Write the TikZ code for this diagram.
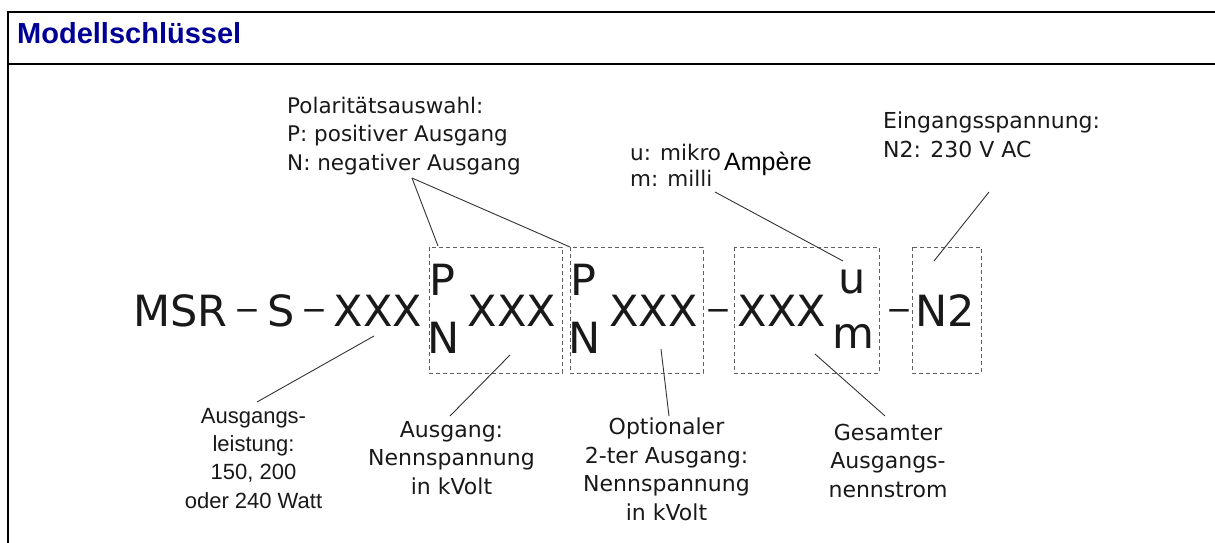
\documentclass[tikz,border=0pt]{standalone}
\usepackage{fontspec}
\setmainfont{DejaVu Sans}
\newfontfamily\arialfont{Liberation Sans}
\definecolor{titleblue}{HTML}{000096}
\definecolor{lead}{HTML}{333333}
\definecolor{dashgray}{HTML}{606060}
\tikzset{
  frameline/.style={line width=2.4pt, black},
  code/.style={inner sep=0pt, anchor=base, font=\fontsize{43}{50}\selectfont, text=black!90},
  sep/.style={inner sep=0pt, anchor=base, font=\fontsize{31}{36}\selectfont, text=black!90},
  lbl/.style={inner sep=0pt, anchor=base, font=\fontsize{22}{28.5}\selectfont, align=center, text=black!90},
  lblw/.style={inner sep=0pt, anchor=base west, font=\fontsize{21.5}{28.5}\selectfont, align=left, text=black!90},
  group/.style={draw=dashgray, dash pattern=on 4pt off 3pt, line width=1pt, inner sep=0pt},
  leader/.style={draw=lead, line width=0.9pt},
}
\begin{document}
\begin{tikzpicture}[x=1pt,y=-1pt]
\useasboundingbox (0,0) rectangle (1215,543);
% frame
\draw[frameline] (8,543) -- (8,12) -- (1216,12);
\draw[frameline] (8,64) -- (1216,64);
\node[inner sep=0pt, anchor=base west, font=\arialfont\bfseries\fontsize{29}{34}\selectfont, text=titleblue] (title) at (17,44) {Modellschlüssel};

% code string
\node[code] (msr) at (180.5,326) {MSR};
\node[sep] (d1) at (247.5,320) {−};
\node[code] (s) at (281.5,326) {S};
\node[sep] (d2) at (314,320) {−};
\node[code] (x1) at (378,326) {XXX};
\node[code] (p1) at (442,295) {P};
\node[code] (n1) at (443.5,353) {N};
\node[code] (x2) at (512,326) {XXX};
\node[code] (p2) at (583,295) {P};
\node[code] (n2) at (584.5,353) {N};
\node[code] (x3) at (653.5,326) {XXX};
\node[sep] (d3) at (718,320) {−};
\node[code] (x4) at (782,326) {XXX};
\node[code] (u) at (852.5,293) {u};
\node[code] (m) at (853.5,348) {m};
\node[sep] (d4) at (899.5,320) {−};
\node[code] (nz) at (945.5,326) {N2};

% dashed group boxes
\coordinate (b1a) at (429,247); \coordinate (b1b) at (562,373);
\coordinate (b2a) at (570,247); \coordinate (b2b) at (703,373);
\coordinate (b3a) at (734,247); \coordinate (b3b) at (879,373);
\coordinate (b4a) at (912,247); \coordinate (b4b) at (981,373);
\draw[group] (b1a) rectangle (b1b);
\draw[group] (b2a) rectangle (b2b);
\draw[group] (b3a) rectangle (b3b);
\draw[group] (b4a) rectangle (b4b);

% labels (base anchor = baseline of the last line)
\node[lblw] (pol) at (287,170) {Polaritätsauswahl:\\P: positiver Ausgang\\N: negativer Ausgang};
\node[lblw, font=\fontsize{21.5}{26}\selectfont] (um) at (630,186) {u: mikro\\m: milli};
\node[inner sep=0pt, anchor=base, font=\arialfont\fontsize{25}{30}\selectfont] (amp) at (768,170) {Ampère};
\node[lblw, font=\fontsize{22}{28.5}\selectfont] (ein) at (883,157) {Eingangsspannung:\\N2: 230 V AC};
\node[lbl, font=\arialfont\fontsize{22}{28.3}\selectfont] (leist) at (253.5,508) {Ausgangs-\\leistung:\\150, 200\\oder 240 Watt};
\node[lbl] (aus) at (451.5,494) {Ausgang:\\Nennspannung\\in kVolt};
\node[lbl] (opt) at (666.5,520) {Optionaler\\2-ter Ausgang:\\Nennspannung\\in kVolt};
\node[lbl] (ges) at (888,497) {Gesamter\\Ausgangs-\\nennstrom};

% leader end points
\coordinate (polT) at (412,178);
\coordinate (p1T) at (438,246);
\coordinate (umT) at (715,192);
\coordinate (uT) at (843,261);
\coordinate (einT) at (989,192);
\coordinate (nzT) at (934,261);
\coordinate (x1B) at (374,336);
\coordinate (leistT) at (257,402);
\coordinate (x2B) at (510,355);
\coordinate (ausT) at (450,416);
\coordinate (x3B) at (661,349);
\coordinate (optT) at (669,416);
\coordinate (x4B) at (815,354);
\coordinate (gesT) at (885,416);

\draw[leader] (polT) -- (p1T);
\draw[leader] (polT) -- (b2a);
\draw[leader] (umT) -- (uT);
\draw[leader] (einT) -- (nzT);
\draw[leader] (x1B) -- (leistT);
\draw[leader] (x2B) -- (ausT);
\draw[leader] (x3B) -- (optT);
\draw[leader] (x4B) -- (gesT);
\end{tikzpicture}
\end{document}
